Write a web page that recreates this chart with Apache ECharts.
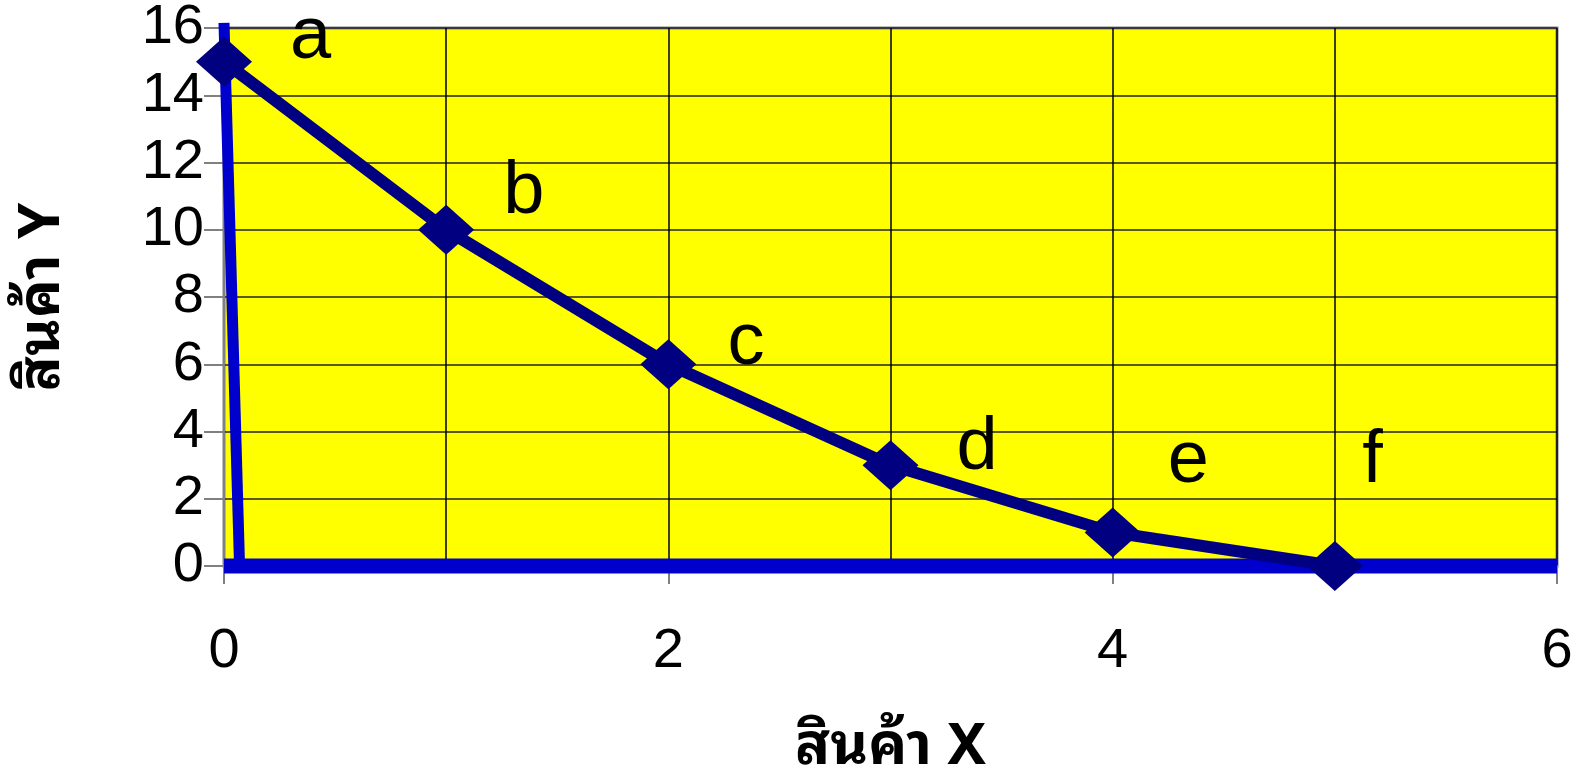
<!DOCTYPE html>
<html>
<head>
<meta charset="utf-8">
<script src="https://cdn.jsdelivr.net/npm/echarts@6/dist/echarts.min.js"></script>
<style>
  html, body { margin: 0; padding: 0; background: #fff; }
  #main { width: 1585px; height: 772px; }
</style>
</head>
<body>
<div id="main"></div>
<script>
// production possibilities: goods X vs goods Y
const goodsX = [0, 1, 2, 3, 4, 5];
const goodsY = [15, 10, 6, 3, 1, 0];
const pointNames = ['a', 'b', 'c', 'd', 'e', 'f'];
// where the letters sit (data units)
const nameX = [0.39, 1.35, 2.35, 3.39, 4.34, 5.17];
const nameY = [15.7, 11.1, 6.6, 3.5, 3.1, 3.1];
// the two blue axis strokes drawn over the plot
const axisStrokeV = [[0, 16.15], [0.07, 0]];
const axisStrokeH = [[0, 0], [6, 0]];
const xTicks = [0, 2, 4, 6];
const yTicks = [0, 2, 4, 6, 8, 10, 12, 14, 16];

const chartDom = document.getElementById('main');
const myChart = echarts.init(chartDom, null, { renderer: 'canvas' });

const font = 'Liberation Sans, Arial, sans-serif';
const thaiFont = 'Noto Sans Thai Looped, Noto Sans Thai, Noto Sans, Liberation Sans, sans-serif';

const option = {
  animation: false,
  grid: {
    left: 224,
    right: 28,
    top: 28,
    bottom: 206,
    outerBoundsMode: 'none',
    containLabel: false,
    show: true,
    backgroundColor: '#ffff00',
    borderColor: '#808080',
    borderWidth: 3
  },
  xAxis: {
    type: 'value',
    min: xTicks[0],
    max: xTicks[xTicks.length - 1],
    interval: 2,
    name: 'สินค้า X',
    nameLocation: 'middle',
    nameGap: 153,
    nameTextStyle: { fontFamily: thaiFont, fontWeight: 'bold', fontSize: 58, color: '#000' },
    axisLine: { show: true, lineStyle: { color: '#808080', width: 2 } },
    axisTick: { show: true, length: 18, inside: false, lineStyle: { color: '#808080', width: 2 } },
    axisLabel: { margin: 58, fontSize: 56, fontFamily: font, color: '#000' },
    splitLine: { show: true, lineStyle: { color: '#000', width: 1.5 } },
    minorTick: { show: false, splitNumber: 2 },
    minorSplitLine: { show: true, lineStyle: { color: '#000', width: 1.5 } }
  },
  yAxis: {
    type: 'value',
    min: yTicks[0],
    max: yTicks[yTicks.length - 1],
    interval: 2,
    name: 'สินค้า Y',
    nameLocation: 'middle',
    nameGap: 152,
    nameRotate: 90,
    nameTextStyle: { fontFamily: thaiFont, fontWeight: 'bold', fontSize: 58, color: '#000' },
    axisLine: { show: true, lineStyle: { color: '#808080', width: 2 } },
    axisTick: { show: true, length: 20, lineStyle: { color: '#808080', width: 2 } },
    axisLabel: { margin: 20, fontSize: 56, fontFamily: font, color: '#000' },
    splitLine: { show: true, lineStyle: { color: '#222', width: 1.5 } }
  },
  series: [
    {
      type: 'line',
      data: axisStrokeV,
      clip: false,
      symbol: 'none',
      lineStyle: { color: '#0000cc', width: 11 },
      z: 3
    },
    {
      type: 'line',
      data: axisStrokeH,
      clip: false,
      symbol: 'none',
      lineStyle: { color: '#0000cc', width: 15, cap: 'butt' },
      z: 4
    },
    {
      type: 'line',
      data: goodsX.map((x, i) => [x, goodsY[i]]),
      clip: false,
      symbol: 'diamond',
      symbolSize: [56, 50],
      showAllSymbol: true,
      itemStyle: { color: '#000080' },
      lineStyle: { color: '#000080', width: 12 },
      z: 5
    },
    {
      type: 'scatter',
      data: nameX.map((x, i) => [x, nameY[i], pointNames[i]]),
      symbolSize: 0,
      silent: true,
      itemStyle: { opacity: 1 },
      label: {
        show: true,
        position: 'inside',
        formatter: p => p.data[2],
        fontSize: 74,
        fontFamily: font,
        color: '#000',
        opacity: 1
      },
      z: 6
    }
  ]
};

myChart.setOption(option);
</script>
</body>
</html>
